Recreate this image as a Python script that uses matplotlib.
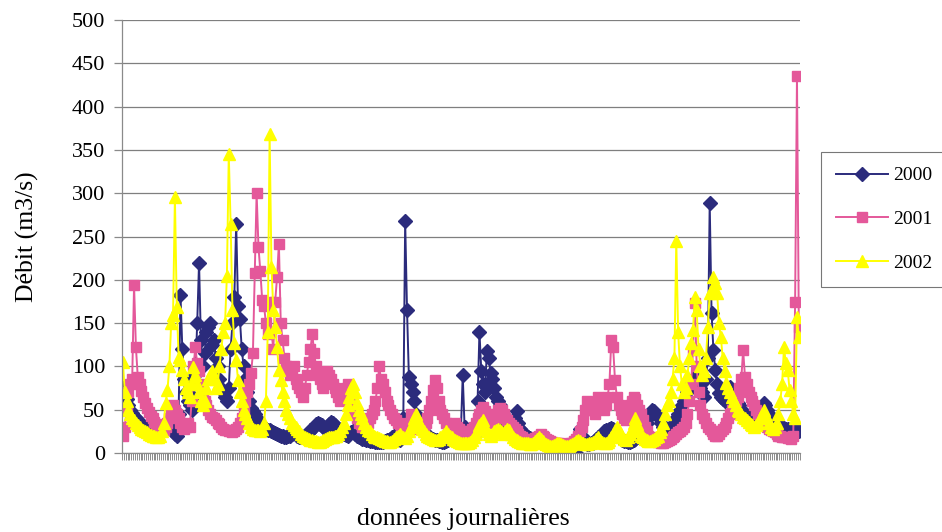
import numpy as np
import matplotlib
matplotlib.use("Agg")
import matplotlib.pyplot as plt

# daily flow, one value per day (365 days)
debit_2000 = [
    75, 70, 62, 55, 50, 46, 42, 40, 38, 35, 33, 31, 30, 28, 27, 26, 25, 25, 24, 23,
    24, 25, 28, 30, 32, 35, 30, 26, 22, 20, 45, 183, 120, 85, 70, 60, 55, 50, 65, 90,
    150, 220, 130, 100, 115, 140, 145, 150, 125, 130, 110, 100, 85, 75, 70, 65, 60, 75, 120, 150,
    180, 265, 170, 155, 120, 100, 85, 70, 60, 52, 48, 45, 40, 38, 35, 32, 30, 28, 27, 26,
    25, 24, 23, 22, 21, 20, 20, 19, 19, 20, 20, 22, 24, 22, 20, 19, 18, 18, 20, 22,
    24, 26, 28, 30, 33, 35, 34, 32, 30, 28, 30, 33, 36, 35, 32, 30, 28, 26, 24, 22,
    21, 20, 22, 24, 25, 22, 20, 18, 17, 16, 16, 15, 15, 14, 14, 14, 13, 13, 13, 13,
    13, 14, 15, 15, 16, 18, 20, 18, 16, 15, 20, 40, 268, 165, 88, 80, 70, 60, 45, 35,
    30, 28, 25, 22, 20, 18, 17, 16, 15, 15, 14, 14, 13, 13, 14, 15, 16, 18, 20, 22,
    20, 22, 25, 90, 30, 18, 16, 15, 14, 18, 25, 60, 140, 95, 80, 70, 118, 110, 92, 85,
    75, 65, 60, 55, 45, 40, 35, 33, 30, 28, 32, 40, 48, 35, 28, 25, 22, 20, 18, 17,
    16, 15, 15, 14, 13, 12, 12, 11, 10, 10, 10, 9, 9, 8, 8, 7, 7, 6, 6, 5,
    8, 6, 4, 2, 0, 15, 28, 20, 15, 12, 10, 10, 11, 12, 14, 16, 18, 20, 22, 25,
    26, 27, 28, 29, 28, 24, 20, 18, 16, 15, 14, 14, 13, 13, 14, 15, 16, 18, 20, 22,
    25, 30, 35, 40, 45, 50, 48, 45, 42, 40, 35, 30, 28, 25, 25, 28, 30, 35, 40, 45,
    50, 55, 60, 65, 70, 75, 80, 85, 88, 82, 80, 75, 70, 65, 85, 110, 289, 162, 119, 96,
    80, 69, 65, 62, 60, 65, 70, 76, 72, 68, 62, 58, 55, 50, 48, 45, 42, 40, 38, 36,
    35, 38, 42, 48, 52, 58, 55, 50, 45, 42, 38, 35, 33, 32, 30, 30, 29, 28, 28, 27,
    27, 26, 28, 30, 25,
]

debit_2001 = [
    20, 30, 50, 70, 80, 85, 194, 122, 88, 80, 72, 65, 58, 52, 47, 43, 40, 36, 33, 30,
    28, 27, 26, 30, 35, 40, 45, 55, 50, 45, 40, 35, 30, 28, 30, 35, 30, 60, 100, 122,
    104, 95, 80, 70, 60, 55, 50, 45, 42, 40, 38, 35, 33, 30, 28, 27, 26, 25, 25, 24,
    25, 28, 30, 35, 40, 50, 60, 70, 80, 92, 115, 208, 300, 238, 210, 177, 170, 150, 138, 175,
    140, 120, 175, 203, 242, 150, 130, 110, 100, 95, 90, 95, 100, 85, 80, 75, 70, 65, 75, 90,
    105, 120, 138, 115, 100, 90, 85, 80, 75, 85, 95, 90, 85, 80, 75, 70, 65, 60, 65, 70,
    75, 80, 70, 60, 50, 45, 40, 35, 33, 30, 30, 32, 35, 40, 45, 50, 60, 75, 100, 85,
    80, 70, 60, 55, 50, 45, 40, 38, 35, 33, 30, 30, 28, 27, 35, 45, 40, 35, 30, 28,
    30, 28, 30, 35, 40, 50, 60, 73, 84, 75, 60, 50, 45, 40, 35, 33, 30, 30, 32, 35,
    30, 28, 25, 22, 20, 20, 22, 25, 28, 30, 35, 40, 45, 50, 53, 48, 45, 40, 38, 35,
    40, 45, 50, 52, 50, 45, 40, 38, 35, 32, 30, 28, 25, 22, 20, 18, 16, 15, 14, 15,
    15, 16, 17, 18, 20, 22, 20, 18, 16, 15, 14, 13, 12, 12, 11, 11, 10, 10, 10, 10,
    10, 11, 12, 14, 16, 20, 25, 30, 38, 50, 60, 58, 55, 50, 45, 55, 65, 60, 55, 50,
    55, 65, 80, 130, 122, 84, 65, 55, 50, 45, 40, 38, 45, 55, 60, 65, 62, 55, 50, 45,
    38, 30, 25, 20, 18, 16, 15, 14, 13, 13, 12, 12, 13, 14, 15, 16, 18, 20, 22, 24,
    25, 28, 30, 35, 45, 60, 80, 119, 173, 100, 70, 55, 45, 40, 35, 30, 28, 25, 22, 20,
    20, 22, 25, 28, 30, 35, 40, 45, 50, 55, 60, 65, 75, 85, 119, 88, 80, 70, 65, 60,
    55, 50, 45, 40, 38, 35, 32, 30, 28, 26, 25, 24, 22, 20, 20, 19, 18, 18, 17, 17,
    16, 20, 175, 435, 146,
]

debit_2002 = [
    105, 70, 60, 50, 45, 40, 38, 35, 32, 30, 28, 26, 25, 24, 22, 21, 20, 20, 19, 19,
    20, 25, 35, 58, 73, 100, 150, 160, 296, 169, 111, 107, 96, 85, 75, 70, 65, 80, 99, 90,
    80, 70, 60, 55, 60, 75, 85, 90, 95, 85, 75, 80, 100, 120, 140, 150, 205, 345, 265, 165,
    127, 107, 84, 70, 60, 50, 45, 40, 35, 30, 28, 27, 26, 26, 25, 28, 35, 60, 140, 369,
    215, 165, 146, 122, 96, 84, 70, 60, 50, 45, 40, 35, 32, 30, 28, 25, 22, 20, 18, 17,
    16, 15, 15, 14, 14, 13, 13, 14, 15, 16, 17, 18, 18, 19, 20, 20, 22, 25, 30, 35,
    45, 55, 65, 75, 80, 70, 58, 50, 45, 40, 35, 30, 27, 25, 22, 20, 19, 18, 17, 16,
    15, 14, 14, 13, 13, 14, 16, 18, 20, 22, 20, 18, 17, 20, 25, 30, 35, 40, 45, 38,
    32, 28, 25, 22, 20, 18, 17, 16, 15, 15, 16, 18, 20, 22, 25, 22, 20, 18, 16, 15,
    14, 13, 12, 12, 11, 11, 12, 13, 15, 18, 22, 28, 32, 35, 38, 30, 25, 22, 20, 22,
    25, 27, 28, 26, 24, 22, 25, 28, 26, 22, 18, 16, 15, 14, 13, 12, 12, 11, 11, 10,
    10, 12, 14, 16, 18, 16, 14, 12, 10, 9, 8, 8, 9, 10, 11, 12, 10, 9, 8, 8,
    8, 9, 10, 12, 14, 15, 14, 12, 11, 10, 10, 11, 12, 13, 14, 16, 18, 15, 13, 12,
    12, 13, 15, 18, 22, 26, 30, 26, 22, 18, 16, 15, 18, 22, 28, 35, 40, 33, 25, 20,
    18, 16, 15, 14, 14, 15, 16, 18, 20, 24, 28, 35, 45, 55, 60, 70, 85, 110, 245, 140,
    100, 80, 70, 75, 90, 110, 127, 142, 180, 165, 120, 100, 90, 95, 110, 146, 185, 190, 203, 196,
    185, 150, 134, 110, 95, 81, 75, 70, 65, 60, 55, 50, 48, 45, 42, 40, 38, 36, 34, 32,
    30, 32, 35, 40, 45, 50, 45, 40, 35, 30, 28, 30, 35, 45, 60, 80, 122, 104, 96, 73,
    60, 45, 40, 157, 134,
]

plt.rcParams['font.family'] = ['Liberation Serif', 'DejaVu Serif']

fig = plt.figure(figsize=(9.42, 5.32), dpi=100)
ax = fig.add_axes([0.1295, 0.1485, 0.7195, 0.8135])

x = np.arange(len(debit_2000))
ax.plot(x, debit_2000, color='#2b2b7c', lw=1.4, marker='D', ms=7,
        markerfacecolor='#2b2b7c', markeredgecolor='#2b2b7c', label='2000')
ax.plot(x, debit_2001, color='#e4589a', lw=1.4, marker='s', ms=6.5,
        markerfacecolor='#e4589a', markeredgecolor='#e4589a', label='2001')
ax.plot(x, debit_2002, color='#ffff00', lw=1.4, marker='^', ms=8,
        markerfacecolor='#ffff00', markeredgecolor='#ffff00', label='2002')

ax.set_ylim(0, 500)
ax.set_xlim(-0.5, len(x) - 0.5)
ax.set_yticks(np.arange(0, 501, 50))
ax.yaxis.grid(True, color='#7f7f7f', lw=0.9)
ax.set_axisbelow(True)

# one tick between each day, like the category axis
ax.set_xticks(np.arange(len(x) + 1) - 0.5)
ax.set_xticklabels([])
ax.tick_params(axis='x', length=5, width=0.6, color='#7a7a7a', direction='out')
ax.tick_params(axis='y', length=6, width=0.9, color='#8a8a8a', labelsize=16, pad=6)

for side in ['top', 'right']:
    ax.spines[side].set_visible(False)
for side in ['left', 'bottom']:
    ax.spines[side].set_color('#8a8a8a')
    ax.spines[side].set_linewidth(0.9)

ax.set_ylabel('Débit (m3/s)', fontsize=18.5, labelpad=24)
fig.text(0.492, 0.004, 'données journalières', ha='center', va='bottom', fontsize=18.5)

leg = ax.legend(loc='upper left', bbox_to_anchor=(0.8716, 0.714), bbox_transform=fig.transFigure,
                borderaxespad=0, frameon=True, fancybox=False, fontsize=14,
                handlelength=2.7, borderpad=0.75, labelspacing=1.35, handletextpad=0.25)
leg.get_frame().set_edgecolor('#555555')
leg.get_frame().set_linewidth(0.8)

fig.savefig('out.png', dpi=100)
